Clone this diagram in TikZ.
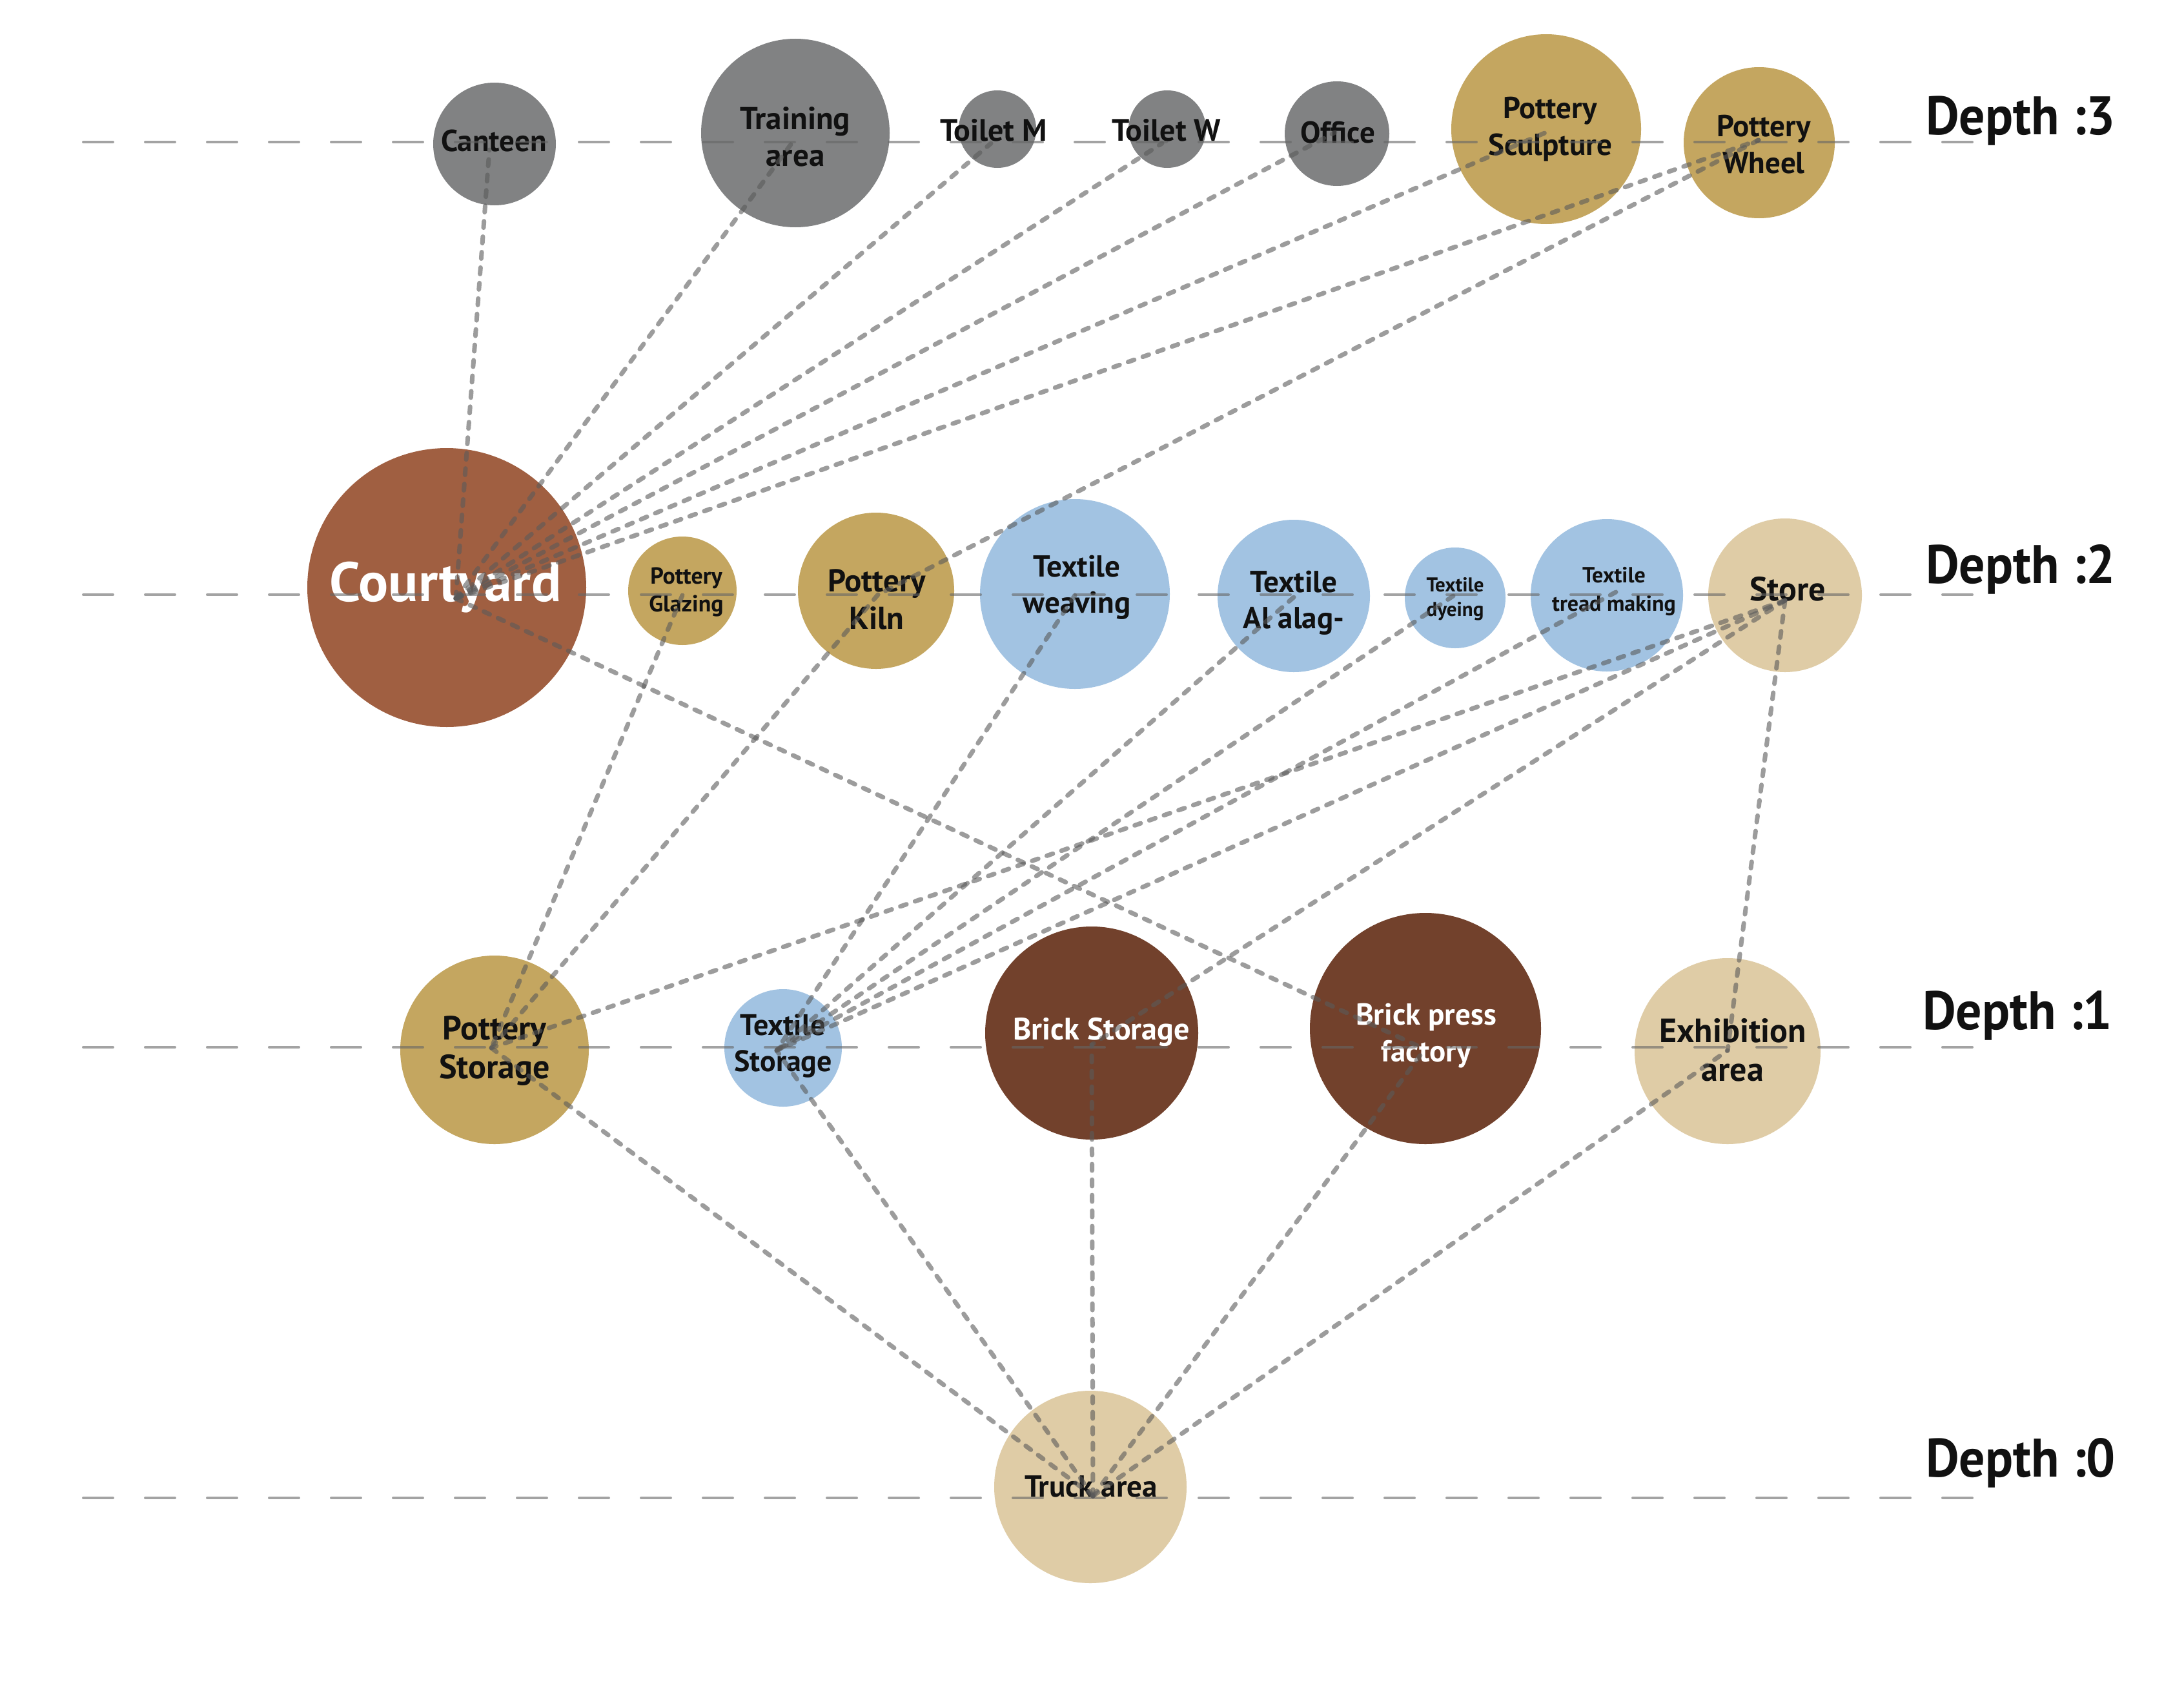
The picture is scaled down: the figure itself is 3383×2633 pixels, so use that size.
\documentclass[tikz,border=0pt]{standalone}
\usepackage{fontspec}
\setmainfont{PT Sans}
\newfontfamily\depthfont{PT Sans}[FakeStretch=0.95]
\definecolor{roomgray}{HTML}{818283}
\definecolor{pottery}{HTML}{C4A660}
\definecolor{courtred}{HTML}{A05F41}
\definecolor{textile}{HTML}{A2C3E2}
\definecolor{sand}{HTML}{DFCCA6}
\definecolor{brick}{HTML}{72412C}
\definecolor{ink}{HTML}{111111}
\definecolor{linkgray}{HTML}{5A5A5A}
\tikzset{
  room/.style={circle, draw=none, inner sep=0pt, minimum size=#1},
  lbl/.style n args={2}{font=\bfseries\fontsize{#1}{#2}\selectfont, text=ink, align=center, inner sep=0pt},
  wlbl/.style n args={2}{lbl={#1}{#2}, text=white},
  deplbl/.style={font=\depthfont\bfseries\fontsize{84}{90}\selectfont, text=ink, inner sep=0pt, anchor=base east},
  depthline/.style={draw=black!60, opacity=0.6, line width=4pt, line cap=round, dash pattern=on 46pt off 50pt},
  link/.style={draw=linkgray, opacity=0.6, line width=7pt, line cap=round, dash pattern=on 10pt off 14pt},
}
\begin{document}
\begin{tikzpicture}[x=1pt, y=-1pt]
\fill[white] (0,0) rectangle (3383,2633);
\useasboundingbox (0,0) rectangle (3383,2633);

% ---- depth 3 ----
\node[room=190pt, fill=roomgray] (canteen) at (766,223) {};
\node[room=292pt, fill=roomgray] (training) at (1232,206) {};
\node[room=120pt, fill=roomgray] (toiletm) at (1545,200) {};
\node[room=120pt, fill=roomgray] (toiletw) at (1808,200) {};
\node[room=162pt, fill=roomgray] (office) at (2071,207) {};
\node[room=294pt, fill=pottery] (sculpt) at (2395,200) {};
\node[room=234pt, fill=pottery] (wheel) at (2725,221) {};

% ---- depth 2 ----
\node[room=432pt, fill=courtred] (court) at (692,910) {};
\node[room=168pt, fill=pottery] (glazing) at (1057,915) {};
\node[room=242pt, fill=pottery] (kiln) at (1357,915) {};
\node[room=294pt, fill=textile] (weaving) at (1665,920) {};
\node[room=236pt, fill=textile] (alalag) at (2004,923) {};
\node[room=156pt, fill=textile] (dyeing) at (2254,926) {};
\node[room=236pt, fill=textile] (tread) at (2489,922) {};
\node[room=238pt, fill=sand] (store) at (2765,922) {};

% ---- depth 1 ----
\node[room=292pt, fill=pottery] (potstore) at (766,1626) {};
\node[room=182pt, fill=textile] (texstore) at (1213,1623) {};
\node[room=330pt, fill=brick] (brickstore) at (1691,1600) {};
\node[room=358pt, fill=brick] (brickpress) at (2208,1593) {};
\node[room=288pt, fill=sand] (exhibit) at (2676,1628) {};

% ---- depth 0 ----
\node[room=298pt, fill=sand] (truck) at (1689,2303) {};

% ---- labels ----
\node[lbl={47}{56}] (canteen-t) at (765,218) {Canteen};
\node[lbl={49}{57}] (training-t) at (1232,212) {Training\\area};
\node[lbl={48}{56}] (toiletm-t) at (1539,202) {Toilet M};
\node[lbl={48}{56}] (toiletw-t) at (1807,202) {Toilet W};
\node[lbl={47}{56}] (office-t) at (2072,205) {Office};
\node[lbl={47}{57}] (sculpt-t) at (2401,200) {Pottery\\Sculpture};
\node[lbl={47}{57}] (wheel-t) at (2732,224) {Pottery\\Wheel};

\node[wlbl={86}{100}] (court-t) at (690,910) {Courtyard};
\node[lbl={36}{43}] (glazing-t) at (1063,917) {Pottery\\Glazing};
\node[lbl={49}{58}] (kiln-t) at (1358,928) {Pottery\\Kiln};
\node[lbl={47}{56}] (weaving-t) at (1668,910) {Textile\\weaving};
\node[lbl={47}{56}] (alalag-t) at (2004,934) {Textile\\Al alag-};
\node[lbl={31}{38}] (dyeing-t) at (2254,928) {Textile\\dyeing};
\node[lbl={34}{44}] (tread-t) at (2500,916) {Textile\\tread making};
\node[lbl={52}{60}] (store-t) at (2769,912) {Store};

\node[lbl={52}{60}] (potstore-t) at (766,1628) {Pottery\\Storage};
\node[lbl={46}{56}] (texstore-t) at (1213,1620) {Textile\\Storage};
\node[wlbl={48}{56}] (brickstore-t) at (1706,1598) {Brick Storage};
\node[wlbl={47}{57}] (brickpress-t) at (2209,1604) {Brick press\\factory};
\node[lbl={52}{60}] (exhibit-t) at (2684,1626) {Exhibition\\area};
\node[lbl={47}{56}] (truck-t) at (1690,2302) {Truck area};

% ---- depth guide lines ----
\coordinate (d3l) at (129,220);  \coordinate (d3r) at (3062,220);
\coordinate (d2l) at (129,921);  \coordinate (d2r) at (3062,921);
\coordinate (d1l) at (129,1622); \coordinate (d1r) at (3062,1622);
\coordinate (d0l) at (129,2320); \coordinate (d0r) at (3062,2320);
\draw[depthline] (d3l) -- (d3r);
\draw[depthline] (d2l) -- (d2r);
\draw[depthline] (d1l) -- (d1r);
\draw[depthline] (d0l) -- (d0r);

% ---- connection points ----
\coordinate (canteen-a) at (758,232);
\coordinate (training-a) at (1230,217);
\coordinate (toiletm-a) at (1535,222);
\coordinate (toiletw-a) at (1800,222);
\coordinate (office-a) at (2068,205);
\coordinate (sculpt-a) at (2402,202);
\coordinate (wheel-a) at (2724,217);
\coordinate (court-a) at (706,927);
\coordinate (glazing-a) at (1057,922);
\coordinate (kiln-a) at (1360,921);
\coordinate (weaving-a) at (1665,922);
\coordinate (alalag-a) at (2004,925);
\coordinate (dyeing-a) at (2251,923);
\coordinate (tread-a) at (2503,917);
\coordinate (store-a) at (2765,930);
\coordinate (potstore-a) at (761,1623);
\coordinate (texstore-a) at (1203,1627);
\coordinate (brickstore-a) at (1691,1618);
\coordinate (brickpress-a) at (2207,1625);
\coordinate (exhibit-a) at (2676,1627);
\coordinate (truck-a) at (1693,2317);

% ---- connectors ----
\draw[link] (court-a) -- (canteen-a);
\draw[link] (court-a) -- (training-a);
\draw[link] (court-a) -- (toiletm-a);
\draw[link] (court-a) -- (toiletw-a);
\draw[link] (court-a) -- (office-a);
\draw[link] (court-a) -- (sculpt-a);
\draw[link] (court-a) -- (wheel-a);
\draw[link] (court-a) -- (brickpress-a);
\draw[link] (wheel-a) -- (kiln-a);
\draw[link] (glazing-a) -- (potstore-a);
\draw[link] (kiln-a) -- (potstore-a);
\draw[link] (store-a) -- (potstore-a);
\draw[link] (weaving-a) -- (texstore-a);
\draw[link] (alalag-a) -- (texstore-a);
\draw[link] (dyeing-a) -- (texstore-a);
\draw[link] (tread-a) -- (texstore-a);
\draw[link] (store-a) -- (texstore-a);
\draw[link] (store-a) -- (brickstore-a);
\draw[link] (store-a) -- (exhibit-a);
\draw[link] (truck-a) -- (potstore-a);
\draw[link] (truck-a) -- (texstore-a);
\draw[link] (truck-a) -- (brickstore-a);
\draw[link] (truck-a) -- (brickpress-a);
\draw[link] (truck-a) -- (exhibit-a);

% ---- depth captions ----
\node[deplbl] (dep3) at (3277,208) {Depth :3};
\node[deplbl] (dep2) at (3277,903) {Depth :2};
\node[deplbl] (dep1) at (3272,1594) {Depth :1};
\node[deplbl] (dep0) at (3277,2287) {Depth :0};
\end{tikzpicture}
\end{document}
